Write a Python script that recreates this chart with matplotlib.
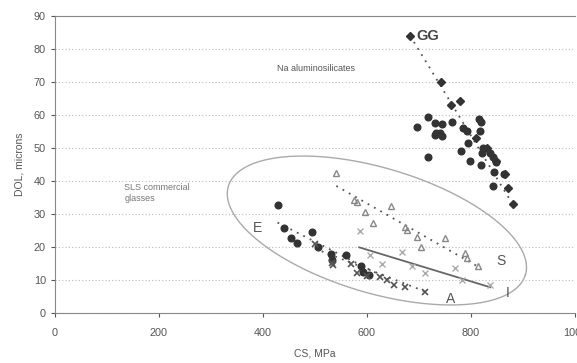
#!/usr/bin/env python3
import numpy as np
import matplotlib.pyplot as plt

plt.rcParams["font.family"] = ["Liberation Sans", "DejaVu Sans"]

# -----------------------------
# data
# -----------------------------
# GG glass (diamonds, dotted trend)
gg_cs = [683, 742, 762, 779, 810, 831, 849, 865, 872, 880]
gg_dol = [84, 70, 63, 64.3, 53, 50, 46, 42, 38, 33]

# Na aluminosilicates (filled circles)
na_cs = [697, 717, 717, 730, 731, 733, 740, 745, 745, 764, 780, 785, 792, 794,
         798, 815, 817, 820, 820, 821, 824, 837, 842, 843, 844, 848, 863]
na_dol = [56.3, 59.3, 47.4, 57.7, 53.9, 54.6, 54.4, 53.6, 57.3, 57.8, 49.2, 56.0,
          55.0, 51.4, 46.2, 58.7, 55.2, 45.0, 58.0, 48.4, 50.0, 48.4, 47.4, 38.6,
          42.8, 45.9, 42.1]

# SLS commercial glasses
e_cs = [428, 441, 453, 465, 495, 506, 531, 533, 560, 588, 593, 603]
e_dol = [32.6, 25.8, 22.6, 21.1, 24.5, 19.9, 17.9, 16.1, 17.6, 14.2, 12.5, 11.5]

a_cs = [500, 532, 535, 570, 580, 600, 625, 638, 651, 673, 712]
a_dol = [20.9, 15.2, 14.5, 14.8, 12.0, 11.2, 11.0, 10.0, 8.5, 8.0, 6.5]

s_cs = [541, 575, 580, 596, 611, 647, 673, 676, 696, 703, 750, 788, 793, 814]
s_dol = [42.3, 34.2, 33.5, 30.7, 27.4, 32.5, 26.0, 25.3, 23.1, 20.1, 22.6, 18.1, 16.6, 14.2]

i_cs = [587, 606, 628, 667, 686, 712, 769, 782, 837]
i_dol = [24.7, 17.6, 15.0, 18.6, 14.2, 12.0, 13.5, 10.0, 8.5]

# trend lines (end points)
gg_fit_cs, gg_fit_dol = [683, 880], [84, 33]
e_fit_cs, e_fit_dol = [428, 650], [27.4, 9.5]
a_fit_cs, a_fit_dol = [500, 712], [19.5, 6.5]
s_fit_cs, s_fit_dol = [541, 814], [38.5, 14.0]
i_fit_cs, i_fit_dol = [585, 837], [19.9, 7.8]

ylabel_ticks = list(range(0, 91, 10))
xlabel_ticks = list(range(0, 1001, 200))

# -----------------------------
# figure
# -----------------------------
fig = plt.figure(figsize=(5.77, 3.63), dpi=100)
ax = fig.add_axes([55 / 577, 50 / 363, 520 / 577, 297 / 363])

dark = "#333333"
mid = "#555555"

ax.plot(gg_fit_cs, gg_fit_dol, ls=(0, (1, 3)), color=mid, lw=1.3)
ax.plot(e_fit_cs, e_fit_dol, ls=(0, (1, 3)), color=mid, lw=1.3)
ax.plot(a_fit_cs, a_fit_dol, ls=(0, (1, 3)), color=mid, lw=1.3)
ax.plot(s_fit_cs, s_fit_dol, ls=(0, (1, 3)), color=mid, lw=1.3)
ax.plot(i_fit_cs, i_fit_dol, ls="-", color="#666666", lw=1.3)

ax.plot(na_cs, na_dol, "o", color=dark, ms=4.8, mec=dark)
ax.plot(gg_cs, gg_dol, "D", color=dark, ms=3.8, mec=dark)
ax.plot(e_cs, e_dol, "o", color=dark, ms=4.8, mec=dark)
ax.plot(a_cs, a_dol, "x", color=mid, ms=4, mew=1.2)
ax.plot(s_cs, s_dol, "^", mfc="none", mec="#888888", ms=5, mew=1.0)
ax.plot(i_cs, i_dol, "x", color="#aaaaaa", ms=5, mew=1.0)

# ellipse round the SLS group (defined in pixel-like units, mapped to data)
px_per_cs = 520 / 1000
px_per_dol = 297 / 90
cx, cy = 619, 25.0
semi_a, semi_b, tilt = 155.0, 62.5, np.radians(16.6)
t = np.linspace(0, 2 * np.pi, 300)
ex = semi_a * np.cos(t) * np.cos(tilt) - semi_b * np.sin(t) * np.sin(tilt)
ey = semi_a * np.cos(t) * np.sin(tilt) + semi_b * np.sin(t) * np.cos(tilt)
ax.plot(cx + ex / px_per_cs, cy - ey / px_per_dol, color="#aaaaaa", lw=1.0)

# labels
ax.text(694, 84, "GG", fontsize=10.5, fontweight="bold", color="#444444", va="center")
ax.text(427, 74.2, "Na aluminosilicates", fontsize=6.5, color="#555555", va="center")
ax.text(133, 36.5, "SLS commercial\nglasses", fontsize=6.5, color="#777777",
        va="center", linespacing=1.3)
ax.text(389, 25.7, "E", fontsize=10, color="#555555", ha="center", va="center")
ax.text(857, 15.8, "S", fontsize=10, color="#555555", ha="center", va="center")
ax.text(761, 4.2, "A", fontsize=10, color="#555555", ha="center", va="center")
ax.text(870, 6.2, "I", fontsize=10, color="#555555", ha="center", va="center")

ax.set_xlim(0, 1000)
ax.set_ylim(0, 90)
ax.set_xticks(xlabel_ticks)
ax.set_yticks(ylabel_ticks)
ax.set_xlabel("CS, MPa", fontsize=7.5, color="#555555", labelpad=7)
ax.set_ylabel("DOL, microns", fontsize=7.5, color="#555555", labelpad=7)
ax.tick_params(labelsize=7.8, colors="#555555", length=3, width=0.8)
ax.tick_params(axis="x", pad=8)
ax.grid(axis="y", ls=(0, (1, 2)), color="#bbbbbb", lw=0.8)
ax.set_axisbelow(True)
for side in ["left", "bottom", "top"]:
    ax.spines[side].set_color("#888888")
    ax.spines[side].set_linewidth(0.8)
ax.spines["right"].set_visible(False)

fig.savefig("out.png", dpi=100)
